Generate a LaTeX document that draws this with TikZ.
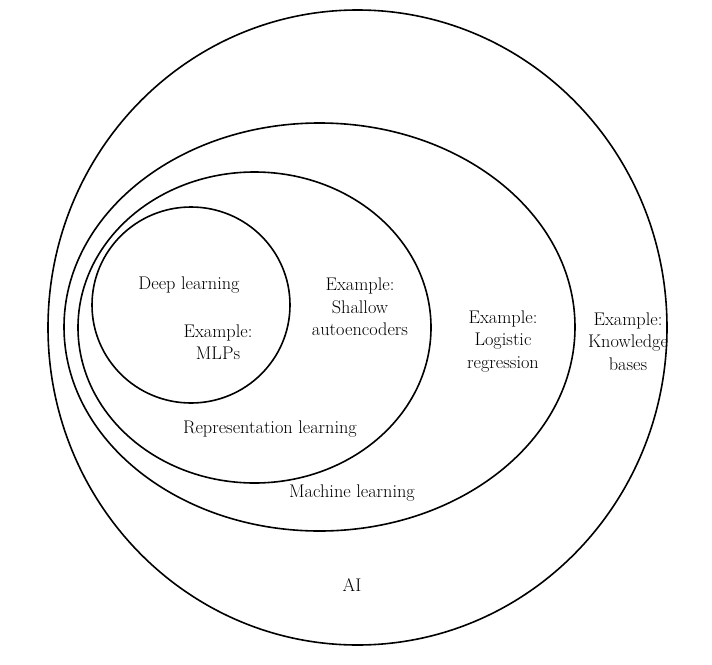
\documentclass[tikz,border=0pt]{standalone}
\begin{document}
\begin{tikzpicture}[x=1pt,y=-1pt,
  setring/.style={draw=black,line width=1.6pt},
  lbl/.style={align=center,font=\fontsize{18.3}{22.5}\selectfont,inner sep=0pt}]
\useasboundingbox (0,0) rectangle (712,664);
\draw[setring] (357.5,327.5) ellipse [x radius=309.5, y radius=317.5];
\draw[setring] (319.5,327) ellipse [x radius=255.5, y radius=204];
\draw[setring] (254.5,327.5) ellipse [x radius=176.5, y radius=155.5];
\draw[setring] (191,305) ellipse [x radius=99, y radius=98];
\node[lbl] (dl) at (189,285) {Deep learning};
\node[lbl] (mlp) at (218,342) {Example:\\MLPs};
\node[lbl] (sae) at (360,307) {Example:\\Shallow\\autoencoders};
\node[lbl] (lr) at (503,341.5) {Example:\\Logistic\\regression};
\node[lbl] (kb) at (628,341.5) {Example:\\Knowledge\\bases};
\node[lbl] (rl) at (270,429) {Representation learning};
\node[lbl] (ml) at (352,493) {Machine learning};
\node[lbl] (ai) at (352,585) {AI};
\end{tikzpicture}
\end{document}
